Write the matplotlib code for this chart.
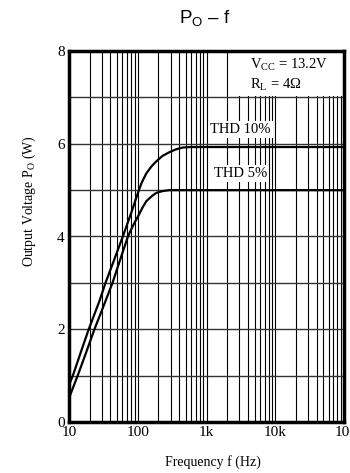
import matplotlib
matplotlib.use("Agg")
import matplotlib.pyplot as plt
from matplotlib.patches import Rectangle
from matplotlib.ticker import FixedLocator, NullFormatter
from matplotlib.transforms import ScaledTranslation

# ---- data ----
freq_thd10 = [10, 11.4, 15, 19.4, 27.8, 34, 45, 60.7, 80, 95, 104, 115, 133, 160, 186, 230, 290, 360, 454, 600, 1000, 10000, 100000]
po_thd10 = [0.79, 1.0, 1.52, 2.0, 2.61, 3.0, 3.48, 4.0, 4.5, 4.83, 5.0, 5.17, 5.36, 5.52, 5.62, 5.74, 5.82, 5.88, 5.92, 5.93, 5.93, 5.93, 5.93]
freq_thd5 = [10, 13.4, 18, 23.5, 30, 43, 55, 72, 82, 90, 104, 118, 133, 160, 186, 230, 290, 400, 1000, 10000, 100000]
po_thd5 = [0.51, 1.0, 1.52, 2.0, 2.4, 3.0, 3.48, 4.0, 4.18, 4.3, 4.47, 4.63, 4.76, 4.87, 4.94, 4.98, 5.0, 5.0, 5.0, 5.0, 5.0]
x_major = [10, 100, 1000, 10000, 100000]
x_labels = ["10", "100", "1k", "10k", "100k"]
y_ticks = [0, 2, 4, 6, 8]

plt.rcParams['font.family'] = ['Liberation Serif', 'DejaVu Serif']
plt.rcParams['mathtext.fontset'] = 'custom'
plt.rcParams['mathtext.rm'] = 'Liberation Serif'
plt.rcParams['mathtext.it'] = 'Liberation Serif:italic'
plt.rcParams['mathtext.sf'] = 'Liberation Sans'

fig = plt.figure(figsize=(3.5, 4.73), dpi=100)
ax = fig.add_axes([0.197, 0.108, 0.786, 0.784])
ax.set_xscale('log')
ax.set_xlim(10, 100000)
ax.set_ylim(0, 8)

# grid
minor = [m * d for d in [10, 100, 1000, 10000] for m in range(2, 10)]
ax.xaxis.set_major_locator(FixedLocator(x_major))
ax.xaxis.set_minor_locator(FixedLocator(minor))
ax.xaxis.set_minor_formatter(NullFormatter())
ax.set_xticklabels(x_labels)
ax.set_yticks(y_ticks)
ax.yaxis.set_minor_locator(FixedLocator([1, 3, 5, 7]))
ax.set_axisbelow(True)
ax.grid(True, which='both', axis='x', color='black', linewidth=0.8)
ax.grid(True, which='both', axis='y', color='#333333', linewidth=1.0)
ax.tick_params(which='both', length=0, labelsize=11, pad=3)

# last x tick label sits a bit to the right in the reference
last = ax.get_xticklabels()[-1]
last.set_transform(last.get_transform() + ScaledTranslation(0.06, 0, fig.dpi_scale_trans))

# white box behind condition text
ax.add_patch(Rectangle((2740, 7.03), 100000 - 2740, 0.97, facecolor='white', edgecolor='none', zorder=1))

ax.plot(freq_thd10, po_thd10, color='black', linewidth=1.6, zorder=3)
ax.plot(freq_thd5, po_thd5, color='black', linewidth=1.6, zorder=3)

ax.text(3130, 6.31, "THD 10%", ha='center', va='center', fontsize=10.5,
        bbox=dict(facecolor='white', edgecolor='none', pad=1.5), zorder=4)
ax.text(3130, 5.36, "THD 5%", ha='center', va='center', fontsize=10.5,
        bbox=dict(facecolor='white', edgecolor='none', pad=1.5), zorder=4)
ax.text(4240, 7.71, r"V$_{\mathrm{CC}}$ = 13.2V", ha='left', va='center', fontsize=10.5, zorder=4)
ax.text(4240, 7.28, r"R$_{\mathrm{L}}$ = 4$\Omega$", ha='left', va='center', fontsize=10.5, zorder=4)

for s in ax.spines.values():
    s.set_linewidth(2.5)
    s.set_zorder(5)

ax.set_xlabel("Frequency f (Hz)", fontsize=10)
ax.xaxis.set_label_coords(0.524, -0.089)
ax.set_ylabel(r"Output Voltage P$_{\mathrm{O}}$ (W)", fontsize=10)
ax.yaxis.set_label_coords(-0.113, 0.595)

fig.text(0.586, 0.962, r"$\mathsf{P_{O}}$ – f", ha='center', va='center', fontsize=13.5,
         family='Liberation Sans')

fig.savefig("out.png", dpi=100)
